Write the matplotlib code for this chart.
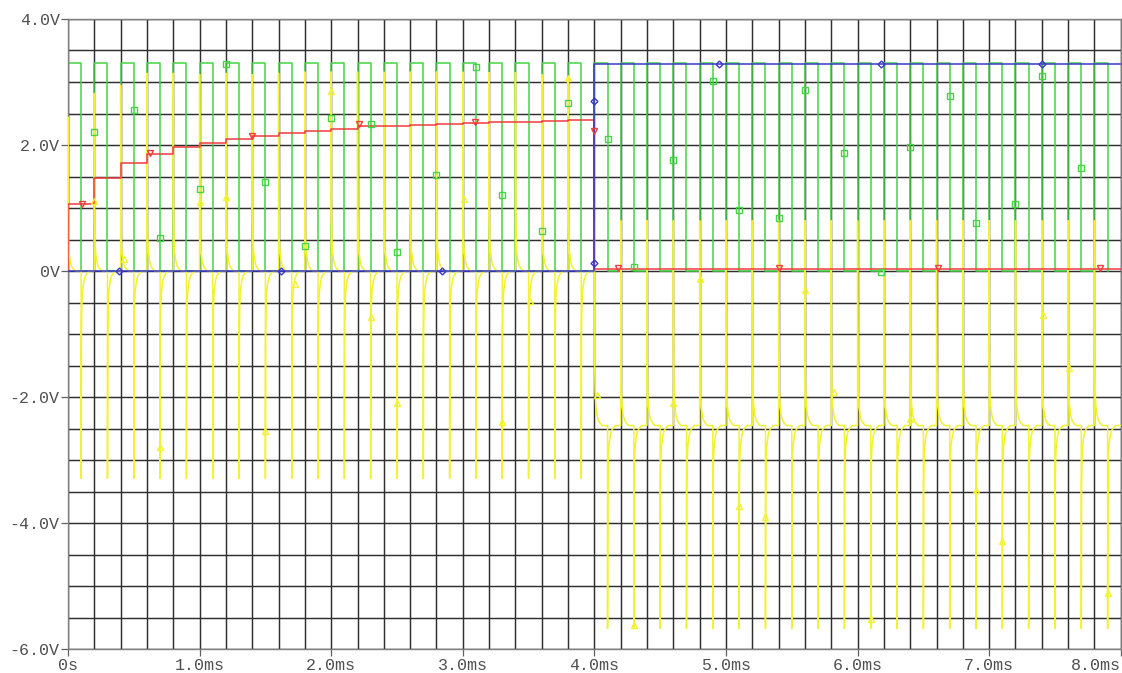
import numpy as np
import matplotlib.pyplot as plt

# clock (green): 3.3 V square wave, 0.2 ms period, high for the first half
clk_period = 0.2
clk_high = 3.3
t_end = 8.0

# red: level held during each clock period up to 4 ms, then after the reset
red_levels = [1.06, 1.48, 1.71, 1.85, 1.97, 2.04, 2.10, 2.15, 2.19, 2.22,
              2.26, 2.30, 2.31, 2.32, 2.33, 2.35, 2.36, 2.37, 2.38, 2.39]
red_after = 0.04

# blue: low until the switch, then high
blue_switch = 4.0
blue_high = 3.29

# yellow: spikes on every clock edge
ylw_peaks = [2.44, 2.82, 2.95, 3.14, 3.14, 3.12, 3.14, 3.12, 3.14, 3.16,
             3.16, 3.16, 3.16, 3.16, 3.16, 3.16, 3.15, 3.15, 3.12, 3.07]
ylw_trough = -3.29
ylw_base_after = -2.45
ylw_peak_after = 0.80
ylw_trough_after = -5.67
# shape of the tail back to the baseline after each edge
tail_dt = [0.0, 0.002, 0.005, 0.01, 0.02, 0.03, 0.045, 0.06]
tail_frac = [1.0, 0.30, 0.17, 0.10, 0.05, 0.025, 0.01, 0.0]

# trace markers
grn_mk_t = [0.2, 0.5, 0.7, 1.0, 1.2, 1.5, 1.8, 2.0, 2.3, 2.5, 2.8, 3.1, 3.3, 3.6, 3.8,
            4.1, 4.3, 4.6, 4.9, 5.1, 5.4, 5.6, 5.9, 6.175, 6.4, 6.7, 6.9, 7.2, 7.4, 7.7]
grn_mk_v = [2.21, 2.55, 0.52, 1.30, 3.29, 1.42, 0.40, 2.43, 2.34, 0.30, 1.53, 3.24, 1.20, 0.63, 2.66,
            2.10, 0.07, 1.76, 3.01, 0.97, 0.85, 2.88, 1.88, -0.01, 1.97, 2.78, 0.76, 1.07, 3.10, 1.64]
ylw_mk_t = [0.2, 0.425, 0.7, 1.0, 1.2, 1.5, 1.725, 2.0, 2.3, 2.5, 3.01, 3.3, 3.51, 3.8,
            4.02, 4.3, 4.6, 4.8, 5.1, 5.3, 5.6, 5.82, 6.1, 6.4, 6.9, 7.1, 7.41, 7.61, 7.9]
ylw_mk_v = [1.12, 0.20, -2.79, 1.09, 1.17, -2.53, -0.21, 2.86, -0.73, -2.10, 1.14, -2.39, -0.47, 3.07,
            -1.97, -5.62, -2.10, -0.12, -3.73, -3.90, -0.30, -1.92, -5.52, -2.34, -3.48, -4.28, -0.70, -1.53, -5.10]
red_mk_t = [0.11, 0.62, 1.40, 2.21, 3.09, 4.0, 4.18, 5.40, 6.61, 7.84]
red_mk_v = [1.06, 1.87, 2.15, 2.34, 2.36, 2.22, 0.05, 0.05, 0.05, 0.05]
blu_mk_t = [0.39, 1.62, 2.84, 4.0, 4.0, 4.95, 6.175, 7.40]
blu_mk_v = [0.0, 0.0, 0.0, 2.70, 0.13, 3.29, 3.29, 3.29]

GRN = '#44d444'
YLW = '#f2f230'
RED = '#f03c3c'
BLU = '#3838c8'

n_cyc = int(round(t_end / clk_period))
half = clk_period / 2

# clock trace
gt, gv = [], []
for k in range(n_cyc):
    t0 = k * clk_period
    gt += [t0, t0, t0 + half, t0 + half]
    gv += [0, clk_high, clk_high, 0]

# spike trace
yt, yv = [0.0], [0.0]
base_prev = 0.0
for k in range(n_cyc):
    for e, te in enumerate([k * clk_period, k * clk_period + half]):
        after = te >= blue_switch - 1e-9
        base = ylw_base_after if after else 0.0
        if e == 0:
            amp = ylw_peak_after if after else ylw_peaks[k]
        else:
            amp = ylw_trough_after if after else ylw_trough
        yt.append(te)
        yv.append(base_prev)
        for dt, fr in zip(tail_dt, tail_frac):
            yt.append(te + dt)
            yv.append(base + (amp - base) * fr)
        base_prev = base
yt.append(t_end)
yv.append(base_prev)

# stepped trace
rt = [0.0] + [k * clk_period for k in range(len(red_levels))] + [blue_switch, t_end]
rv = [0.0] + red_levels + [red_after, red_after]

fig = plt.figure(figsize=(11.22, 6.73), dpi=100)
ax = fig.add_axes([0.0606, 0.0352, 0.9383, 0.9366])

for x in np.arange(0, t_end + 0.01, clk_period):
    ax.axvline(x, color='#2e2e2e', lw=1.05, zorder=0)
for y in np.arange(-6, 4.01, 0.5):
    ax.axhline(y, color='#2e2e2e', lw=1.05, zorder=0)

ax.plot(gt, gv, color=GRN, lw=1.1, zorder=2)
ax.plot(yt, yv, color=YLW, lw=1.1, zorder=3)
ax.step(rt, rv, where='post', color=RED, lw=1.1, zorder=4)
ax.plot([0, blue_switch, blue_switch, t_end], [0, 0, blue_high, blue_high], color=BLU, lw=1.1, zorder=5)

mk = dict(linestyle='none', mfc='none', mew=1.0, zorder=6)
ax.plot(grn_mk_t, grn_mk_v, marker='s', ms=5, mec=GRN, **mk)
ax.plot(ylw_mk_t, ylw_mk_v, marker='^', ms=5, mec=YLW, **mk)
ax.plot(red_mk_t, red_mk_v, marker='v', ms=5, mec=RED, **mk)
ax.plot(blu_mk_t, blu_mk_v, marker='D', ms=3.5, mec=BLU, **mk)

ax.set_xlim(0, t_end)
ax.set_ylim(-6, 4)
ax.set_xticks(range(0, 9))
ax.set_xticklabels(['0s'] + ['%.1fms' % v for v in range(1, 9)])
ax.set_yticks(range(-6, 5, 2))
ax.set_yticklabels(['%.1fV' % v if v != 0 else '0V' for v in range(-6, 5, 2)])
ax.tick_params(direction='out', length=5, width=0.9, color='#606060', pad=1,
               labelsize=12, labelcolor='#505050')
for lab in ax.get_xticklabels() + ax.get_yticklabels():
    lab.set_family('Liberation Mono')
ax.get_xticklabels()[-1].set_horizontalalignment('right')
for s in ax.spines.values():
    s.set_color('#808080')
    s.set_linewidth(1.0)

fig.savefig('out.png', dpi=100)
